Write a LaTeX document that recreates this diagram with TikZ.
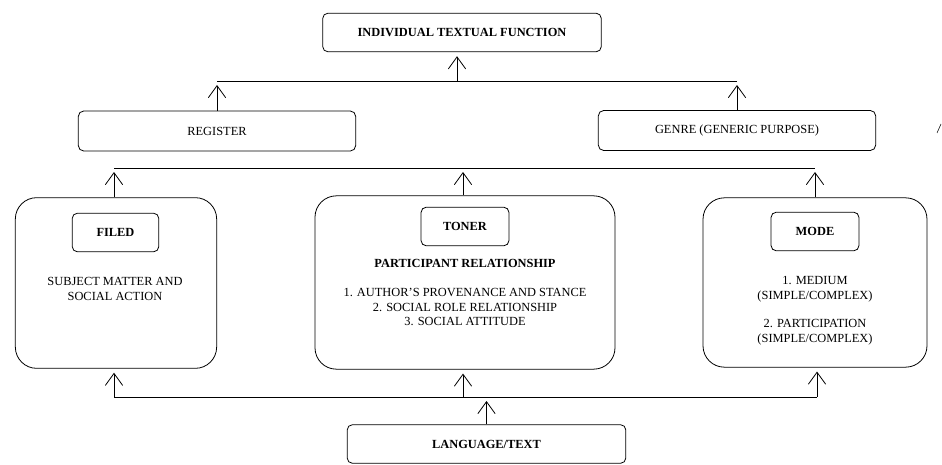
\documentclass[tikz,border=0pt]{standalone}
\usepackage{fontspec}
\setmainfont{Liberation Serif}
\usetikzlibrary{arrows.meta}

\begin{document}
\begin{tikzpicture}[x=0.75pt, y=-0.75pt,
    font=\fontsize{9.3}{11.2}\selectfont,
    box/.style={draw, line width=0.6pt, rounded corners=4pt, inner sep=0pt, align=center},
    bigbox/.style={draw, line width=0.6pt, rounded corners=16pt, inner sep=0pt},
    txt/.style={align=center, inner sep=0pt},
    arr/.style={line width=0.6pt, -{Straight Barb[length=9pt, width=13pt, line width=0.6pt]}, shorten >=3pt},
    bus/.style={line width=0.6pt}]
    \useasboundingbox (0,0) rectangle (942,464);

    % Create boxes
    \node[box, minimum width=209pt, minimum height=29pt] (top) at (462,32.5) {\textbf{INDIVIDUAL TEXTUAL FUNCTION}};
    \node[box, minimum width=208pt, minimum height=30pt] (register) at (217,131) {REGISTER};
    \node[box, minimum width=208pt, minimum height=30pt] (genre) at (737,130.5) {GENRE (GENERIC PURPOSE)};

    \node[bigbox, minimum width=151pt, minimum height=128pt] (filed) at (116,283) {};
    \node[bigbox, minimum width=225pt, minimum height=130pt] (toner) at (465,282.5) {};
    \node[bigbox, minimum width=168pt, minimum height=127pt] (mode) at (815,282.5) {};

    \node[box, minimum width=65pt, minimum height=29pt] (filedlbl) at (115.5,232.5) {\textbf{FILED}};
    \node[box, minimum width=66pt, minimum height=29pt] (tonerlbl) at (465,226.5) {\textbf{TONER}};
    \node[box, minimum width=66pt, minimum height=29pt] (modelbl) at (815,231.5) {\textbf{MODE}};

    \node[box, minimum width=209pt, minimum height=29pt] (language) at (486.5,444) {\textbf{LANGUAGE/TEXT}};

    % Text inside the big boxes
    \node[txt] (filedtxt) at (115,288.5) {SUBJECT MATTER AND\\SOCIAL ACTION};
    \node[txt] (tonerhead) at (465,263) {\textbf{PARTICIPANT RELATIONSHIP}};
    \node[txt] (tonertxt) at (465,307) {1. AUTHOR’S PROVENANCE AND STANCE\\2. SOCIAL ROLE RELATIONSHIP\\3. SOCIAL ATTITUDE};
    \node[txt] (modetxt1) at (815,289.5) {1. MEDIUM\\(SIMPLE/COMPLEX)};
    \node[txt] (modetxt2) at (815,332) {2. PARTICIPATION\\(SIMPLE/COMPLEX)};

    % Junction lines
    \coordinate (busAl) at (217,81);
    \coordinate (busAm) at (457,81);
    \coordinate (busAr) at (737,81);
    \coordinate (busBl) at (114,168);
    \coordinate (busBm) at (463,168);
    \coordinate (busBr) at (815,168);
    \coordinate (busCl) at (114,397);
    \coordinate (busCm) at (463,397);
    \coordinate (busCr) at (817,397);

    \draw[bus] (busAl) -- (busAr);
    \draw[bus] (busBl) -- (busBr);
    \draw[bus] (busCl) -- (busCr);

    % Draw arrows
    \draw[arr] (busAm) -- (busAm |- top.south);
    \draw[arr] (register.north -| busAl) -- (busAl);
    \draw[arr] (genre.north -| busAr) -- (busAr);

    \draw[arr] (filed.north -| busBl) -- (busBl);
    \draw[arr] (toner.north -| busBm) -- (busBm);
    \draw[arr] (mode.north -| busBr) -- (busBr);

    \draw[arr] (busCl) -- (busCl |- filed.south);
    \draw[arr] (busCm) -- (busCm |- toner.south);
    \draw[arr] (busCr) -- (busCr |- mode.south);
    \draw[arr] (language.north) -- (language.north |- busCl);

    % stray mark
    \draw[line width=0.4pt] (937,133) -- (941,124);
\end{tikzpicture}
\end{document}
